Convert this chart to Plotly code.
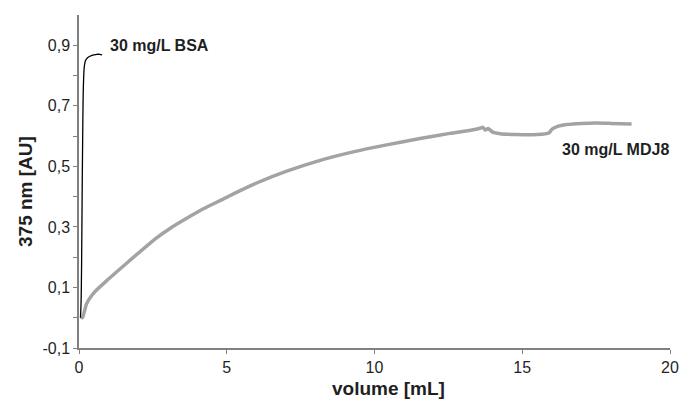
import plotly.graph_objects as go

# BSA curve (black)
bsa_x = [0.05, 0.07, 0.09, 0.11, 0.13, 0.15, 0.18, 0.22, 0.3, 0.4, 0.5, 0.6, 0.7, 0.78]
bsa_y = [0.0, 0.05, 0.2, 0.45, 0.65, 0.77, 0.83, 0.85, 0.86, 0.865, 0.868, 0.87, 0.87, 0.868]

# MDJ8 curve (grey)
mdj_x = [0.07, 0.12, 0.18, 0.26, 0.54, 0.99, 1.67, 2.57, 3.08, 3.76, 4.21, 4.88, 5.45, 6.01,
         7.03, 8.16, 9.28, 10.41, 11.54, 12.55, 13.3, 13.57, 13.67, 13.75, 13.85, 14.0, 14.25,
         14.8, 15.5, 15.9, 16.0, 16.2, 16.5, 17.0, 17.5, 18.0, 18.7]
mdj_y = [0.003, 0.0, 0.02, 0.047, 0.086, 0.127, 0.185, 0.26, 0.295, 0.335, 0.36, 0.392, 0.42,
         0.445, 0.484, 0.52, 0.548, 0.571, 0.592, 0.609, 0.62, 0.626, 0.629, 0.62, 0.625, 0.613,
         0.608, 0.605, 0.605, 0.61, 0.622, 0.632, 0.638, 0.642, 0.643, 0.642, 0.64]

y_tickvals = [-0.1, 0.0, 0.1, 0.2, 0.3, 0.4, 0.5, 0.6, 0.7, 0.8, 0.9]
y_ticktext = ["-0,1", "", "0,1", "", "0,3", "", "0,5", "", "0,7", "", "0,9"]
x_tickvals = [0, 5, 10, 15, 20]

FONT = "Liberation Sans, Arial, sans-serif"
TXT = "#1f1f1f"

fig = go.Figure()
fig.add_trace(go.Scatter(x=mdj_x, y=mdj_y, mode="lines",
                         line=dict(color="#a3a3a3", width=3.5, shape="spline", smoothing=0.6),
                         showlegend=False))
fig.add_trace(go.Scatter(x=bsa_x, y=bsa_y, mode="lines",
                         line=dict(color="#000000", width=1.3, shape="spline"), showlegend=False))

axis_common = dict(showgrid=False, zeroline=False, showline=True, linecolor="#808080",
                   linewidth=1.5, ticks="outside", ticklen=4, tickcolor="#808080",
                   tickfont=dict(family=FONT, size=16, color=TXT), automargin=False)

fig.update_xaxes(range=[0, 20], tickmode="array", tickvals=x_tickvals,
                 ticktext=[str(v) for v in x_tickvals], **axis_common)
fig.update_yaxes(range=[-0.1, 1.0], tickmode="array", tickvals=y_tickvals,
                 ticktext=y_ticktext, **axis_common)

fig.add_annotation(x=0.98, y=0.9, xref="x", yref="y", text="<b>30 mg/L BSA</b>",
                   showarrow=False, xanchor="left", yanchor="middle",
                   font=dict(family=FONT, size=16, color=TXT))
fig.add_annotation(x=16.28, y=0.556, xref="x", yref="y", text="<b>30 mg/L MDJ8</b>",
                   showarrow=False, xanchor="left", yanchor="middle",
                   font=dict(family=FONT, size=16, color=TXT))

L, R, T, B = 79, 11, 15, 51
W, H = 681, 399
pw, ph = W - L - R, H - T - B

# axis titles positioned in pixel terms, converted to paper coordinates
fig.add_annotation(x=(388 - L) / pw, y=(H - 388 - B) / ph, xref="paper", yref="paper",
                   text="<b>volume [mL]</b>", showarrow=False, xanchor="center", yanchor="middle",
                   font=dict(family=FONT, size=19, color=TXT))
fig.add_annotation(x=(25 - L) / pw, y=(H - 192 - B) / ph, xref="paper", yref="paper",
                   text="<b>375 nm [AU]</b>", textangle=-90, showarrow=False,
                   xanchor="center", yanchor="middle",
                   font=dict(family=FONT, size=19, color=TXT))

fig.update_layout(width=W, height=H, margin=dict(l=L, r=R, t=T, b=B, autoexpand=False),
                  plot_bgcolor="white", paper_bgcolor="white", separators=",.",
                  font=dict(family=FONT))

fig.write_html("out.html", config={"displayModeBar": False},
               post_script="document.body.style.margin='0';document.body.style.overflow='hidden';")
